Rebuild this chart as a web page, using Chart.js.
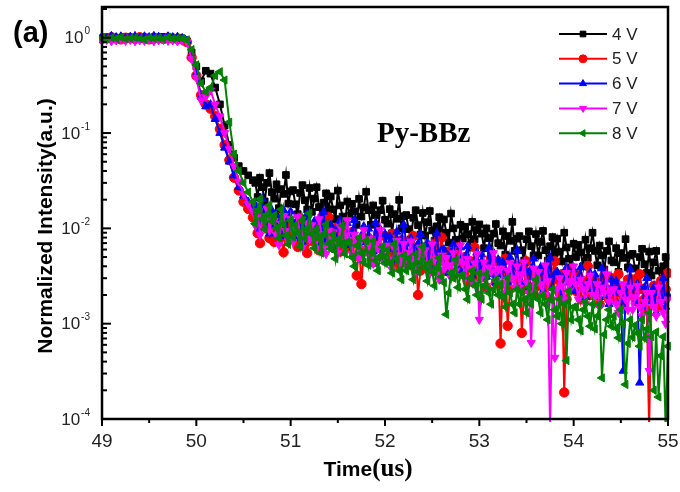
<!DOCTYPE html>
<html>
<head>
<meta charset="utf-8">
<script src="https://cdn.jsdelivr.net/npm/chart.js@4.4.1/dist/chart.umd.min.js"></script>
<style>
  html, body { margin: 0; padding: 0; background: #fff; }
  #wrap { width: 680px; height: 492px; }
</style>
</head>
<body>
<div id="wrap"><canvas id="chart" width="680" height="492"></canvas></div>
<script>
// time axis (us), shared by all five voltages
const times = [
  49.00, 49.05, 49.10, 49.15, 49.20, 49.25, 49.30, 49.35, 49.40, 49.45,
  49.50, 49.55, 49.60, 49.65, 49.70, 49.75, 49.80, 49.85,
  49.90, 49.95, 50.00, 50.05, 50.10, 50.15, 50.20, 50.25, 50.30, 50.35,
  50.40, 50.45, 50.50, 50.55, 50.60,
  50.625, 50.65, 50.675, 50.70, 50.725, 50.75, 50.775, 50.80,
  50.825, 50.85, 50.875, 50.90, 50.925, 50.95, 50.975, 51.00,
  51.025, 51.05, 51.075, 51.10, 51.125, 51.15, 51.175, 51.20,
  51.225, 51.25, 51.275, 51.30, 51.325, 51.35, 51.375, 51.40,
  51.425, 51.45, 51.475, 51.50, 51.525, 51.55, 51.575, 51.60,
  51.625, 51.65, 51.675, 51.70, 51.725, 51.75, 51.775, 51.80,
  51.825, 51.85, 51.875, 51.90, 51.925, 51.95, 51.975, 52.00,
  52.025, 52.05, 52.075, 52.10, 52.125, 52.15, 52.175, 52.20,
  52.225, 52.25, 52.275, 52.30, 52.325, 52.35, 52.375, 52.40,
  52.425, 52.45, 52.475, 52.50, 52.525, 52.55, 52.575, 52.60,
  52.625, 52.65, 52.675, 52.70, 52.725, 52.75, 52.775, 52.80,
  52.825, 52.85, 52.875, 52.90, 52.925, 52.95, 52.975, 53.00,
  53.025, 53.05, 53.075, 53.10, 53.125, 53.15, 53.175, 53.20,
  53.225, 53.25, 53.275, 53.30, 53.325, 53.35, 53.375, 53.40,
  53.425, 53.45, 53.475, 53.50, 53.525, 53.55, 53.575, 53.60,
  53.625, 53.65, 53.675, 53.70, 53.725, 53.75, 53.775, 53.80,
  53.825, 53.85, 53.875, 53.90, 53.925, 53.95, 53.975, 54.00,
  54.025, 54.05, 54.075, 54.10, 54.125, 54.15, 54.175, 54.20,
  54.225, 54.25, 54.275, 54.30, 54.325, 54.35, 54.375, 54.40,
  54.425, 54.45, 54.475, 54.50, 54.525, 54.55, 54.575, 54.60,
  54.625, 54.65, 54.675, 54.70, 54.725, 54.75, 54.775, 54.80,
  54.825, 54.85, 54.875, 54.90, 54.925, 54.95, 54.975, 55.00
];

// normalized intensity per voltage (plateau, fall, tail)
const v4 = [
  0.98, 1.01, 0.97, 1.00, 0.99, 1.02, 0.98, 1.00, 0.97, 1.01, 0.99, 1.00, 0.98, 1.02, 0.99, 0.97, 1.00, 0.98,
  0.92, 0.70, 0.50, 0.35, 0.45, 0.42, 0.30, 0.20, 0.12, 0.075, 0.055, 0.045, 0.040, 0.036, 0.032,
  0.030, 0.0213, 0.034, 0.027, 0.0192, 0.030, 0.038, 0.024,
  0.0205, 0.029, 0.0163, 0.0258, 0.023, 0.0363, 0.0182, 0.0244,
  0.0252, 0.0179, 0.0141, 0.0235, 0.0284, 0.0197, 0.0158, 0.0265,
  0.0149, 0.0205, 0.0270, 0.0167, 0.0130, 0.0186, 0.0233, 0.0158,
  0.0216, 0.0158, 0.0125, 0.0249, 0.0174, 0.0133, 0.0108, 0.0191,
  0.0136, 0.0181, 0.0151, 0.0109, 0.0204, 0.0133, 0.0166, 0.0242,
  0.0155, 0.0109, 0.0174, 0.0138, 0.0098, 0.0155, 0.0195, 0.0123,
  0.0112, 0.0159, 0.0089, 0.0141, 0.0126, 0.0199, 0.0100, 0.0134,
  0.0138, 0.0098, 0.0077, 0.0129, 0.0155, 0.0108, 0.0086, 0.0145,
  0.0084, 0.0116, 0.0152, 0.0095, 0.0074, 0.0105, 0.0131, 0.0089,
  0.0124, 0.0090, 0.0071, 0.0143, 0.0100, 0.0076, 0.0062, 0.0109,
  0.0078, 0.0104, 0.0087, 0.0063, 0.0117, 0.0077, 0.0096, 0.0110,
  0.0088, 0.0062, 0.0100, 0.0079, 0.0056, 0.0088, 0.0111, 0.0070,
  0.0066, 0.0093, 0.0053, 0.0083, 0.0074, 0.0117, 0.0058, 0.0078,
  0.0083, 0.0059, 0.0046, 0.0077, 0.0093, 0.0065, 0.0052, 0.0087,
  0.0052, 0.0072, 0.0094, 0.0059, 0.0046, 0.0065, 0.0081, 0.0055,
  0.0078, 0.0057, 0.0045, 0.0090, 0.0063, 0.0048, 0.0039, 0.0069,
  0.0050, 0.0067, 0.0056, 0.0040, 0.0076, 0.0049, 0.0062, 0.0090,
  0.0058, 0.0041, 0.0066, 0.0052, 0.0037, 0.0058, 0.0073, 0.0046,
  0.0044, 0.0062, 0.0035, 0.0055, 0.0049, 0.0077, 0.0039, 0.0052,
  0.0054, 0.0038, 0.0030, 0.0050, 0.0061, 0.0042, 0.0034, 0.0057,
  0.0032, 0.0044, 0.0058, 0.0036, 0.0028, 0.0040, 0.0050, 0.0034
];
const v5 = [
  0.97, 0.99, 1.01, 0.98, 0.96, 1.00, 0.99, 0.97, 1.01, 0.98, 0.96, 1.00, 0.99, 0.97, 1.00, 0.98, 0.97, 0.96,
  0.90, 0.62, 0.40, 0.25, 0.20, 0.18, 0.15, 0.11, 0.075, 0.052, 0.034, 0.025, 0.019, 0.016, 0.013,
  0.0126, 0.0089, 0.0070, 0.0118, 0.0142, 0.0099, 0.0079, 0.0132,
  0.0072, 0.0099, 0.0131, 0.0081, 0.0056, 0.0090, 0.0113, 0.0077,
  0.0111, 0.0081, 0.0064, 0.0128, 0.0089, 0.0068, 0.0055, 0.0098,
  0.0074, 0.0098, 0.0082, 0.0059, 0.0111, 0.0072, 0.0090, 0.0131,
  0.0090, 0.0063, 0.0101, 0.0080, 0.0057, 0.0090, 0.0113, 0.0071,
  0.0064, 0.0091, 0.0051, 0.0032, 0.0072, 0.0026, 0.0057, 0.0076,
  0.0079, 0.0056, 0.0044, 0.0074, 0.0089, 0.0062, 0.0050, 0.0083,
  0.0048, 0.0066, 0.0087, 0.0054, 0.0042, 0.0060, 0.0075, 0.0051,
  0.0072, 0.0052, 0.0041, 0.0083, 0.0058, 0.0020, 0.0036, 0.0063,
  0.0045, 0.0060, 0.0050, 0.0036, 0.0068, 0.0044, 0.0055, 0.0080,
  0.0050, 0.0036, 0.0057, 0.0045, 0.0032, 0.0050, 0.0063, 0.0040,
  0.0036, 0.0050, 0.0028, 0.0045, 0.0040, 0.0063, 0.0032, 0.0042,
  0.0043, 0.0031, 0.0024, 0.0040, 0.0049, 0.0034, 0.0027, 0.0045,
  0.00062, 0.0036, 0.0048, 0.00095, 0.0023, 0.0033, 0.0041, 0.0028,
  0.0039, 0.0008, 0.0023, 0.0045, 0.0032, 0.0024, 0.0020, 0.0035,
  0.0025, 0.0034, 0.0028, 0.0020, 0.0038, 0.0025, 0.0031, 0.0045,
  0.0029, 0.0021, 0.0033, 0.00019, 0.0018, 0.0029, 0.0037, 0.0023,
  0.0022, 0.0032, 0.0018, 0.0028, 0.0025, 0.0040, 0.0020, 0.0027,
  0.0029, 0.0020, 0.0016, 0.0027, 0.0032, 0.0023, 0.0018, 0.0030,
  0.0018, 0.0025, 0.0033, 0.0021, 0.0016, 0.0023, 0.0029, 0.0020,
  0.0029, 0.0021, 0.0017, 0.0033, 0.0023, 0.0018, 0.0014, 0.00008,
  0.0019, 0.0025, 0.0021, 0.0015, 0.0028, 0.0018, 0.0023, 0.0034
];
const v6 = [
  1.03, 1.00, 1.04, 1.01, 1.03, 0.99, 1.02, 1.04, 1.00, 1.03, 1.01, 1.04, 1.02, 1.00, 1.03, 1.01, 1.02, 0.99,
  0.93, 0.65, 0.42, 0.24, 0.19, 0.20, 0.14, 0.10, 0.070, 0.050, 0.036, 0.027, 0.022, 0.019, 0.017,
  0.0176, 0.0128, 0.0101, 0.0203, 0.0142, 0.0108, 0.0088, 0.0155,
  0.0104, 0.0138, 0.0115, 0.0083, 0.0155, 0.0101, 0.0127, 0.0150,
  0.0112, 0.0079, 0.0126, 0.0100, 0.0071, 0.0112, 0.0141, 0.0089,
  0.0084, 0.0118, 0.0067, 0.0105, 0.0094, 0.0149, 0.0074, 0.0100,
  0.0108, 0.0077, 0.0060, 0.0101, 0.0122, 0.0085, 0.0068, 0.0113,
  0.0067, 0.0092, 0.0122, 0.0076, 0.0059, 0.0084, 0.0105, 0.0071,
  0.0099, 0.0072, 0.0057, 0.0114, 0.0080, 0.0061, 0.0049, 0.0087,
  0.0061, 0.0082, 0.0068, 0.0049, 0.0092, 0.0060, 0.0075, 0.0109,
  0.0069, 0.0049, 0.0078, 0.0062, 0.0044, 0.0069, 0.0087, 0.0055,
  0.0050, 0.0071, 0.0040, 0.0063, 0.0056, 0.0088, 0.0044, 0.0059,
  0.0060, 0.0043, 0.0034, 0.0056, 0.0068, 0.0047, 0.0038, 0.0063,
  0.0036, 0.0050, 0.0065, 0.0041, 0.0032, 0.0045, 0.0056, 0.0038,
  0.0053, 0.0039, 0.0031, 0.0062, 0.0043, 0.0033, 0.0027, 0.0047,
  0.0033, 0.0044, 0.0037, 0.0027, 0.0050, 0.0033, 0.0041, 0.0059,
  0.0038, 0.0027, 0.0043, 0.0034, 0.0024, 0.0038, 0.0048, 0.0030,
  0.0028, 0.0039, 0.0022, 0.0035, 0.0031, 0.0049, 0.0024, 0.0033,
  0.0035, 0.0025, 0.0019, 0.0032, 0.0039, 0.0027, 0.0022, 0.0037,
  0.0022, 0.0030, 0.0039, 0.0024, 0.0019, 0.0027, 0.0034, 0.0023,
  0.0033, 0.0024, 0.0019, 0.0038, 0.0026, 0.0020, 0.0016, 0.0029,
  0.0021, 0.0028, 0.0023, 0.0017, 0.00032, 0.0020, 0.0025, 0.0037,
  0.0024, 0.0017, 0.0026, 0.00024, 0.0015, 0.0024, 0.0030, 0.0019,
  0.0017, 0.0024, 0.0013, 0.0021, 0.0019, 0.0030, 0.0015, 0.0020
];
const v7 = [
  0.93, 0.95, 0.92, 0.94, 0.96, 0.93, 0.95, 0.92, 0.94, 0.93, 0.96, 0.92, 0.94, 0.95, 0.93, 0.94, 0.92, 0.93,
  0.90, 0.60, 0.38, 0.22, 0.24, 0.28, 0.20, 0.15, 0.10, 0.068, 0.045, 0.031, 0.023, 0.018, 0.015,
  0.0107, 0.0151, 0.0085, 0.0134, 0.0120, 0.0160, 0.0095, 0.0127,
  0.0120, 0.0085, 0.0067, 0.0112, 0.0135, 0.0094, 0.0075, 0.0126,
  0.0072, 0.0099, 0.0131, 0.0081, 0.0063, 0.0090, 0.0113, 0.0077,
  0.0108, 0.0079, 0.0062, 0.0125, 0.0087, 0.0066, 0.0054, 0.0095,
  0.0068, 0.0091, 0.0076, 0.0055, 0.0103, 0.0067, 0.0084, 0.0122,
  0.0076, 0.0054, 0.0086, 0.0068, 0.0048, 0.0076, 0.0096, 0.0061,
  0.0054, 0.0077, 0.0043, 0.0068, 0.0061, 0.0096, 0.0048, 0.0065,
  0.0066, 0.0047, 0.0037, 0.0062, 0.0074, 0.0052, 0.0041, 0.0069,
  0.0040, 0.0055, 0.0073, 0.0045, 0.0035, 0.0050, 0.0063, 0.0043,
  0.0059, 0.0043, 0.0034, 0.0068, 0.0047, 0.0036, 0.0029, 0.0052,
  0.0037, 0.0049, 0.0041, 0.0030, 0.0055, 0.0036, 0.0045, 0.0066,
  0.0043, 0.0030, 0.0048, 0.0038, 0.0027, 0.0043, 0.0054, 0.0011,
  0.0031, 0.0044, 0.0025, 0.0039, 0.0035, 0.0055, 0.0028, 0.0037,
  0.0038, 0.0027, 0.0021, 0.0036, 0.0043, 0.0030, 0.0024, 0.0040,
  0.0024, 0.0033, 0.0044, 0.0027, 0.0021, 0.00063, 0.0038, 0.0026,
  0.0035, 0.0026, 0.0020, 0.0041, 0.0028, 0.00008, 0.0018, 0.00044,
  0.0023, 0.0030, 0.0025, 0.0018, 0.0034, 0.0022, 0.0028, 0.0040,
  0.0026, 0.0018, 0.0029, 0.0023, 0.0016, 0.0026, 0.0032, 0.0020,
  0.0019, 0.0026, 0.0015, 0.0024, 0.0021, 0.0033, 0.0017, 0.0022,
  0.0023, 0.0016, 0.0013, 0.0021, 0.0026, 0.0018, 0.0014, 0.0024,
  0.0014, 0.0019, 0.0025, 0.0015, 0.0012, 0.0017, 0.0021, 0.00032,
  0.0021, 0.0015, 0.0012, 0.0024, 0.0017, 0.0013, 0.0010, 0.0018
];
const v8 = [
  0.99, 0.97, 1.00, 0.98, 1.01, 0.97, 0.99, 1.00, 0.98, 0.96, 1.00, 0.98, 0.99, 0.97, 1.01, 0.98, 0.99, 0.98,
  0.95, 0.75, 0.52, 0.33, 0.27, 0.30, 0.40, 0.44, 0.36, 0.13, 0.060, 0.040, 0.030, 0.024, 0.019,
  0.0112, 0.0154, 0.0203, 0.0126, 0.0098, 0.0140, 0.0175, 0.0119,
  0.0137, 0.0100, 0.0079, 0.0158, 0.0110, 0.0084, 0.0068, 0.0121,
  0.0081, 0.0108, 0.0090, 0.0065, 0.0122, 0.0079, 0.0099, 0.0144,
  0.0087, 0.0062, 0.0098, 0.0078, 0.0055, 0.0087, 0.0110, 0.0069,
  0.0061, 0.0086, 0.0048, 0.0076, 0.0068, 0.0107, 0.0054, 0.0072,
  0.0071, 0.0050, 0.0040, 0.0066, 0.0080, 0.0055, 0.0044, 0.0074,
  0.0041, 0.0056, 0.0074, 0.0046, 0.0036, 0.0051, 0.0064, 0.0043,
  0.0059, 0.0043, 0.0034, 0.0068, 0.0047, 0.0036, 0.0029, 0.0052,
  0.0036, 0.0048, 0.0040, 0.0029, 0.0054, 0.0035, 0.0044, 0.0064,
  0.0039, 0.0028, 0.0044, 0.0035, 0.0025, 0.0039, 0.0049, 0.0031,
  0.0027, 0.00125, 0.0021, 0.0034, 0.0030, 0.0047, 0.0024, 0.0032,
  0.0032, 0.0023, 0.0018, 0.0030, 0.0036, 0.0025, 0.0020, 0.0034,
  0.0018, 0.0025, 0.0033, 0.0021, 0.0016, 0.0023, 0.0029, 0.0020,
  0.0026, 0.0019, 0.0015, 0.0030, 0.0021, 0.0016, 0.0013, 0.0023,
  0.0016, 0.0022, 0.0018, 0.0013, 0.0024, 0.0016, 0.0020, 0.0029,
  0.0018, 0.0013, 0.0020, 0.0016, 0.0011, 0.0018, 0.0023, 0.0014,
  0.0012, 0.0018, 0.0010, 0.0016, 0.00041, 0.0022, 0.0011, 0.0015,
  0.0015, 0.0011, 0.00084, 0.0014, 0.0017, 0.0012, 0.00094, 0.0016,
  0.00088, 0.0012, 0.0016, 0.00027, 0.00077, 0.0011, 0.0014, 0.00094,
  0.0012, 0.0009, 0.00071, 0.0014, 0.0010, 0.00023, 0.00062, 0.0011,
  0.00072, 0.00096, 0.0008, 0.00058, 0.0011, 0.0007, 0.00088, 0.0013,
  0.00073, 0.0002, 0.00082, 0.00017, 0.00046, 0.00073, 0.00008, 0.00058
];

const seriesValues = [v4, v5, v6, v7, v8];
const seriesLabels = ["4 V", "5 V", "6 V", "7 V", "8 V"];
const xTickValues = [49, 50, 51, 52, 53, 54, 55];
const yDecades = [0, -1, -2, -3, -4];

const colors = ["#000000", "#ff0000", "#0000ff", "#ff00ff", "#008000"];
const markers = ["rect", "circle", "triangle", "triangle", "triangle"];
const markerTurn = [0, 0, 0, 180, 270];

// frame, ticks, labels, legend and annotation are drawn by hand (Origin-like look)
const originFrame = {
  id: "originFrame",
  afterDatasetsDraw(chart) {
    const { ctx, chartArea: a, scales: { x, y } } = chart;
    ctx.save();
    ctx.strokeStyle = "#000";
    ctx.lineWidth = 2.5;
    ctx.strokeRect(a.left, a.top, a.right - a.left, a.bottom - a.top);

    // x ticks point outward
    ctx.lineWidth = 2;
    xTickValues.forEach((t, i) => {
      const px = x.getPixelForValue(t);
      ctx.beginPath(); ctx.moveTo(px, a.bottom); ctx.lineTo(px, a.bottom + 7); ctx.stroke();
      if (i < xTickValues.length - 1) {
        const mx = x.getPixelForValue(t + 0.5);
        ctx.beginPath(); ctx.moveTo(mx, a.bottom); ctx.lineTo(mx, a.bottom + 4); ctx.stroke();
      }
    });

    // y ticks point inward
    yDecades.forEach(d => {
      const py = y.getPixelForValue(Math.pow(10, d));
      ctx.beginPath(); ctx.moveTo(a.left, py); ctx.lineTo(a.left + 9, py); ctx.stroke();
      for (let k = 2; k <= 9; k++) {
        const v = k * Math.pow(10, d);
        if (v > y.max) break;
        const my = y.getPixelForValue(v);
        ctx.beginPath(); ctx.moveTo(a.left, my); ctx.lineTo(a.left + 5, my); ctx.stroke();
      }
    });

    // tick labels
    ctx.fillStyle = "#222";
    ctx.textBaseline = "middle";
    ctx.textAlign = "center";
    ctx.font = "19px 'Liberation Sans', Arial, sans-serif";
    xTickValues.forEach(t => ctx.fillText(String(t), x.getPixelForValue(t), a.bottom + 23));

    yDecades.forEach(d => {
      const py = y.getPixelForValue(Math.pow(10, d));
      const exp = String(d);
      ctx.font = "10px 'Liberation Sans', Arial, sans-serif";
      const ew = ctx.measureText(exp).width;
      ctx.textAlign = "left";
      ctx.fillText(exp, 90 - ew, py - 6);
      ctx.font = "17px 'Liberation Sans', Arial, sans-serif";
      ctx.textAlign = "right";
      ctx.fillText("10", 89 - ew, py + 1);
    });

    // axis titles
    ctx.fillStyle = "#000";
    ctx.textAlign = "center";
    ctx.textBaseline = "alphabetic";
    ctx.save();
    ctx.translate(52, (a.top + a.bottom) / 2 + 13);
    ctx.rotate(-Math.PI / 2);
    ctx.font = "bold 21px 'Liberation Sans', Arial, sans-serif";
    ctx.fillText("Normalized Intensity(a.u.)", 0, 0);
    ctx.restore();

    ctx.font = "bold 21px 'Liberation Sans', Arial, sans-serif";
    const tw = ctx.measureText("Time").width;
    ctx.font = "bold 25px 'Liberation Serif', 'Times New Roman', serif";
    const uw = ctx.measureText("(us)").width;
    const sx = 368 - (tw + uw) / 2;
    ctx.textAlign = "left";
    ctx.font = "bold 21px 'Liberation Sans', Arial, sans-serif";
    ctx.fillText("Time", sx, 476);
    ctx.font = "bold 25px 'Liberation Serif', 'Times New Roman', serif";
    ctx.fillText("(us)", sx + tw, 476);

    // panel letter and sample name
    ctx.font = "bold 29px 'Liberation Sans', Arial, sans-serif";
    ctx.fillText("(a)", 13, 42);
    ctx.font = "bold 29px 'Liberation Serif', 'Times New Roman', serif";
    ctx.fillText("Py-BBz", 377, 142);

    // legend
    seriesLabels.forEach((lab, i) => {
      const ly = 34 + i * 24.8;
      ctx.strokeStyle = colors[i];
      ctx.fillStyle = colors[i];
      ctx.lineWidth = 2;
      ctx.beginPath(); ctx.moveTo(559, ly); ctx.lineTo(607, ly); ctx.stroke();
      ctx.lineWidth = 1;
      Chart.helpers.drawPoint(ctx, {
        pointStyle: markers[i], radius: 4, rotation: markerTurn[i], borderWidth: 1
      }, 583, ly);
      ctx.fillStyle = "#222";
      ctx.font = "17px 'Liberation Sans', Arial, sans-serif";
      ctx.textBaseline = "middle";
      ctx.fillText(lab, 612, ly + 1);
    });
    ctx.restore();
  }
};

new Chart(document.getElementById("chart"), {
  type: "line",
  data: {
    datasets: seriesValues.map((vals, i) => ({
      label: seriesLabels[i],
      data: times.map((t, j) => ({ x: t, y: vals[j] })),
      borderColor: colors[i],
      backgroundColor: colors[i],
      borderWidth: 2,
      tension: 0,
      pointStyle: markers[i],
      pointRotation: markerTurn[i],
      pointRadius: 4.7,
      pointBorderWidth: 1,
      pointBackgroundColor: colors[i],
      pointBorderColor: colors[i],
      order: seriesValues.length - i,
      clip: 3
    }))
  },
  options: {
    responsive: false,
    animation: false,
    layout: { padding: { left: 102, right: 12, top: 7, bottom: 73 } },
    plugins: { legend: { display: false }, tooltip: { enabled: false } },
    scales: {
      x: { type: "linear", min: 49, max: 55, display: false },
      y: { type: "logarithmic", min: 1e-4, max: 2.1, display: false }
    }
  },
  plugins: [originFrame]
});
</script>
</body>
</html>
